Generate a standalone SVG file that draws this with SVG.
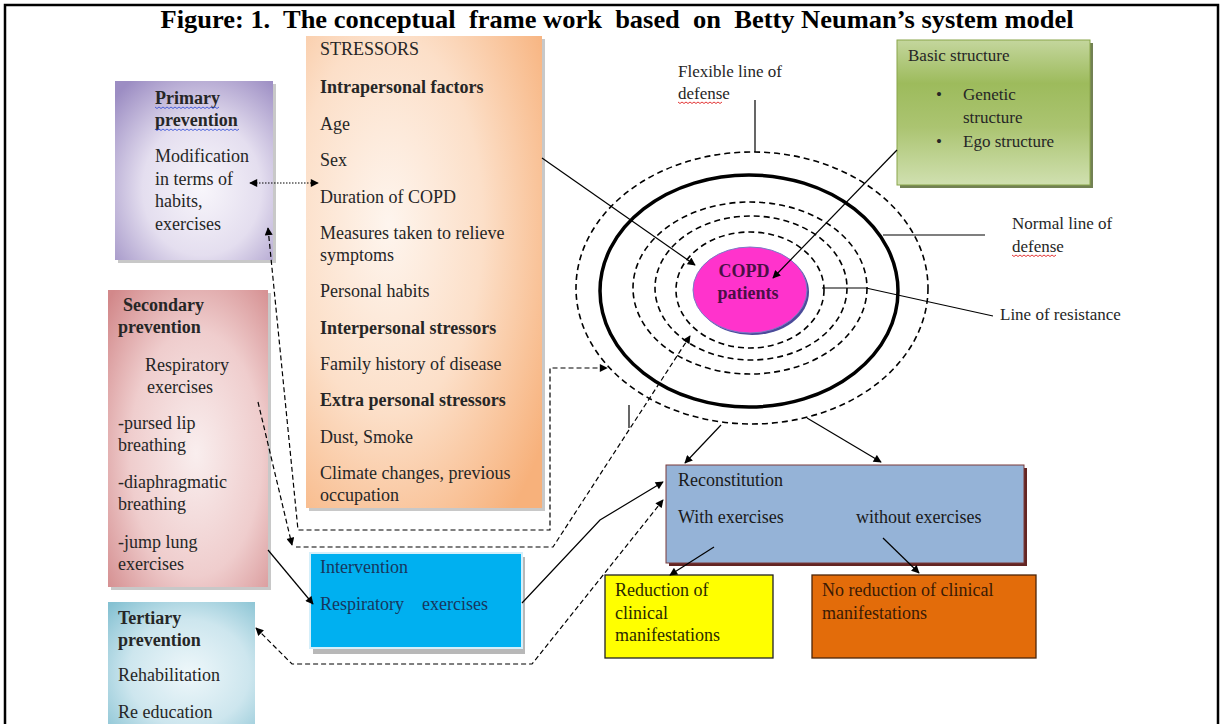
<svg xmlns="http://www.w3.org/2000/svg" width="1223" height="724" viewBox="0 0 1223 724">
<defs>
<style>
text{font-family:"Liberation Serif","Times New Roman",serif;font-size:18px;fill:#262626}
.b{font-weight:bold}
.t17{font-size:17px}
.conn{fill:none;stroke:#000;stroke-width:1.2}
.dash{stroke-dasharray:5 3}
.dot{stroke-dasharray:1.5 1.5}
.ring{fill:none;stroke:#000;stroke-width:1.6;stroke-dasharray:6 4}
.shadow{fill:#9a9a9a;opacity:.55}
.wb{fill:none;stroke:#3a55d8;stroke-width:0.9}
.wr{fill:none;stroke:#e02020;stroke-width:0.9}
</style>
<radialGradient id="gPrim" cx="0.55" cy="0.6" r="0.75"><stop offset="0" stop-color="#f8f6fb"/><stop offset="0.5" stop-color="#e4deef"/><stop offset="1" stop-color="#9c8dc3"/></radialGradient>
<radialGradient id="gStress" cx="0.35" cy="0.4" r="0.8"><stop offset="0" stop-color="#fef5ee"/><stop offset="0.5" stop-color="#fcdfc8"/><stop offset="1" stop-color="#f7b17b"/></radialGradient>
<radialGradient id="gSec" cx="0.55" cy="0.55" r="0.75"><stop offset="0" stop-color="#f9eeee"/><stop offset="0.55" stop-color="#efcdcd"/><stop offset="1" stop-color="#d2888a"/></radialGradient>
<radialGradient id="gTer" cx="0.55" cy="0.55" r="0.75"><stop offset="0" stop-color="#eef7fa"/><stop offset="0.55" stop-color="#cde6ee"/><stop offset="1" stop-color="#85c1d2"/></radialGradient>
<linearGradient id="gBasic" x1="0" y1="0" x2="0" y2="1"><stop offset="0" stop-color="#c4d69d"/><stop offset="0.3" stop-color="#9dbb5c"/><stop offset="0.6" stop-color="#abc471"/><stop offset="1" stop-color="#d0e0b0"/></linearGradient>
<marker id="ah" viewBox="0 0 10 10" refX="9" refY="5" markerWidth="9" markerHeight="8" markerUnits="userSpaceOnUse" orient="auto-start-reverse"><path d="M0,0 L10,5 L0,10 z" fill="#000"/></marker>
</defs>

<rect x="0" y="0" width="1223" height="724" fill="#fff"/>
<path d="M5,724 V5 H1218 V724" fill="none" stroke="#000" stroke-width="2.5"/>

<text x="617" y="28" text-anchor="middle" class="b" style="font-size:25px;fill:#000" textLength="913" lengthAdjust="spacingAndGlyphs" xml:space="preserve">Figure: 1.  The conceptual  frame work  based  on  Betty Neuman’s system model</text>

<g id="primary">
<rect x="118" y="84" width="158" height="179" class="shadow"/>
<rect x="115" y="81" width="158" height="179" fill="url(#gPrim)"/>
<text x="155" y="104" class="b">Primary</text>
<path class="wb" d="M155,107l2,1.5l2,-1.5l2,1.5l2,-1.5l2,1.5l2,-1.5l2,1.5l2,-1.5l2,1.5l2,-1.5l2,1.5l2,-1.5l2,1.5l2,-1.5l2,1.5l2,-1.5l2,1.5l2,-1.5l2,1.5l2,-1.5l2,1.5l2,-1.5l2,1.5l2,-1.5l2,1.5l2,-1.5l2,1.5l2,-1.5l2,1.5l2,-1.5l2,1.5l2,-1.5"/>
<text x="155" y="126" class="b">prevention</text>
<path class="wb" d="M155,129l2,1.5l2,-1.5l2,1.5l2,-1.5l2,1.5l2,-1.5l2,1.5l2,-1.5l2,1.5l2,-1.5l2,1.5l2,-1.5l2,1.5l2,-1.5l2,1.5l2,-1.5l2,1.5l2,-1.5l2,1.5l2,-1.5l2,1.5l2,-1.5l2,1.5l2,-1.5l2,1.5l2,-1.5l2,1.5l2,-1.5l2,1.5l2,-1.5l2,1.5l2,-1.5l2,1.5l2,-1.5l2,1.5l2,-1.5l2,1.5l2,-1.5l2,1.5l2,-1.5l2,1.5l2,-1.5"/>
<text x="155" y="162">Modification</text>
<text x="155" y="185">in terms of</text>
<text x="155" y="207">habits,</text>
<text x="155" y="230">exercises</text>
</g>

<g id="stressors">
<rect x="309" y="39" width="236" height="472" class="shadow"/>
<rect x="306" y="36" width="236" height="472" fill="url(#gStress)"/>
<text x="320" y="55">STRESSORS</text>
<text x="320" y="93" class="b">Intrapersonal factors</text>
<text x="320" y="130">Age</text>
<text x="320" y="166">Sex</text>
<text x="320" y="203">Duration of COPD</text>
<text x="320" y="239">Measures taken to relieve</text>
<text x="320" y="261">symptoms</text>
<text x="320" y="297">Personal habits</text>
<text x="320" y="334" class="b">Interpersonal stressors</text>
<text x="320" y="370">Family history of disease</text>
<text x="320" y="406" class="b">Extra personal stressors</text>
<text x="320" y="443">Dust, Smoke</text>
<text x="320" y="479">Climate changes, previous</text>
<text x="320" y="501">occupation</text>
</g>

<g id="secondary">
<rect x="111" y="293" width="160" height="297" class="shadow"/>
<rect x="108" y="290" width="160" height="297" fill="url(#gSec)"/>
<text x="123" y="311" class="b">Secondary</text>
<text x="118" y="333" class="b">prevention</text>
<text x="145" y="371">Respiratory</text>
<text x="147" y="393">exercises</text>
<text x="118" y="429">-pursed lip</text>
<text x="118" y="451">breathing</text>
<text x="118" y="488">-diaphragmatic</text>
<text x="118" y="510">breathing</text>
<text x="118" y="548">-jump lung</text>
<text x="118" y="570">exercises</text>
</g>

<g id="tertiary">
<rect x="108" y="602" width="147" height="130" fill="url(#gTer)"/>
<text x="118" y="624" class="b">Tertiary</text>
<text x="118" y="646" class="b">prevention</text>
<text x="118" y="681">Rehabilitation</text>
<text x="118" y="718">Re education</text>
</g>

<g id="intervention">
<rect x="313" y="557" width="212" height="97" fill="#a6a6a6" opacity="0.8"/>
<rect x="310" y="553" width="212" height="95" fill="#00b0f0" stroke="#d5effa" stroke-width="2"/>
<text x="320" y="573" style="fill:#17375e">Intervention</text>
<text x="320" y="610" style="fill:#17375e" xml:space="preserve">Respiratory    exercises</text>
</g>

<g id="basic">
<rect x="900" y="43" width="193" height="145" fill="#4f6228" opacity="0.8"/>
<rect x="897" y="40" width="193" height="145" fill="url(#gBasic)" stroke="#8aa64a" stroke-width="1"/>
<text x="908" y="61" class="t17">Basic structure</text>
<text x="936" y="100" class="t17">•</text>
<text x="963" y="100" class="t17">Genetic</text>
<text x="963" y="123" class="t17">structure</text>
<text x="936" y="147" class="t17">•</text>
<text x="963" y="147" class="t17">Ego structure</text>
</g>

<g id="flexible-label">
<text x="678" y="77" class="t17">Flexible line of</text>
<text x="678" y="99" class="t17">defense</text>
<path class="wr" d="M678,102l2,1.5l2,-1.5l2,1.5l2,-1.5l2,1.5l2,-1.5l2,1.5l2,-1.5l2,1.5l2,-1.5l2,1.5l2,-1.5l2,1.5l2,-1.5l2,1.5l2,-1.5l2,1.5l2,-1.5l2,1.5l2,-1.5l2,1.5l2,-1.5"/>
</g>

<g id="normal-label">
<text x="1012" y="229" class="t17">Normal line of</text>
<text x="1012" y="252" class="t17">defense</text>
<path class="wr" d="M1012,255l2,1.5l2,-1.5l2,1.5l2,-1.5l2,1.5l2,-1.5l2,1.5l2,-1.5l2,1.5l2,-1.5l2,1.5l2,-1.5l2,1.5l2,-1.5l2,1.5l2,-1.5l2,1.5l2,-1.5l2,1.5l2,-1.5l2,1.5l2,-1.5"/>
</g>

<g id="resistance-label">
<text x="1000" y="320" class="t17">Line of resistance</text>
</g>

<g id="rings">
<ellipse cx="752" cy="288" rx="176" ry="136" class="ring"/>
<ellipse cx="749" cy="291" rx="149" ry="116" fill="none" stroke="#000" stroke-width="3.5"/>
<ellipse cx="750" cy="288" rx="117" ry="86" class="ring"/>
<ellipse cx="751" cy="288" rx="96" ry="72" class="ring"/>
<ellipse cx="750" cy="290" rx="74" ry="58" class="ring"/>
</g>

<g id="copd">
<ellipse cx="752" cy="292" rx="57" ry="43" fill="#4b4b9a"/>
<ellipse cx="750" cy="290" rx="57" ry="43" fill="#ff33cc" stroke="#7a7ac8" stroke-width="1"/>
<text x="744" y="277" text-anchor="middle" class="b" style="fill:#4a0f45">COPD</text>
<text x="748" y="299" text-anchor="middle" class="b" style="fill:#4a0f45">patients</text>
</g>

<g id="reconstitution">
<rect x="669" y="468" width="358" height="98" fill="#632523"/>
<rect x="666" y="465" width="358" height="98" fill="#95b3d7" stroke="#7b3a3a" stroke-width="1"/>
<text x="678" y="486" style="fill:#1a1a1a">Reconstitution</text>
<text x="678" y="523" style="fill:#1a1a1a">With exercises</text>
<text x="856" y="523" style="fill:#1a1a1a">without exercises</text>
</g>

<g id="reduction">
<rect x="605" y="575" width="168" height="83" fill="#ffff00" stroke="#222" stroke-width="1.3"/>
<text x="615" y="596" style="fill:#2a2a00">Reduction of</text>
<text x="615" y="619" style="fill:#2a2a00">clinical</text>
<text x="615" y="641" style="fill:#2a2a00">manifestations</text>
</g>

<g id="no-reduction">
<rect x="812" y="575" width="224" height="83" fill="#e36c0a" stroke="#4d2608" stroke-width="1.3"/>
<text x="822" y="596" style="fill:#3a1a05">No reduction of clinical</text>
<text x="822" y="619" style="fill:#3a1a05">manifestations</text>
</g>

<g id="connectors">
<path class="conn" d="M542,158 L695,265" marker-end="url(#ah)"/>
<path class="conn" d="M897,150 L773,278" marker-end="url(#ah)"/>
<path class="conn" d="M755,100 V152"/>
<path class="conn" d="M883,235 H985"/>
<path class="conn" d="M822,288 H866 L993,316"/>
<path class="conn dot" d="M250,183 H318" marker-start="url(#ah)" marker-end="url(#ah)"/>
<path class="conn dash" d="M268,228 L298,530 H550 V368 H607" marker-start="url(#ah)" marker-end="url(#ah)"/>
<path class="conn dash" d="M690,336 L553,547 H296" marker-start="url(#ah)"/>
<path class="conn dash" d="M258,402 L292,545" marker-end="url(#ah)"/>
<path class="conn" d="M268,550 L313,604" marker-end="url(#ah)"/>
<path class="conn" d="M522,603 L600,520 L663,482" marker-end="url(#ah)"/>
<path class="conn dash" d="M256,628 L292,664 H532 L663,500" marker-start="url(#ah)" marker-end="url(#ah)"/>
<path class="conn" d="M721,425 L685,463" marker-end="url(#ah)"/>
<path class="conn" d="M807,418 L881,462" marker-end="url(#ah)"/>
<path class="conn" d="M714,547 L670,575" marker-end="url(#ah)"/>
<path class="conn" d="M883,538 L919,573" marker-end="url(#ah)"/>
<path class="conn" d="M629,405 V428"/>
</g>
</svg>
